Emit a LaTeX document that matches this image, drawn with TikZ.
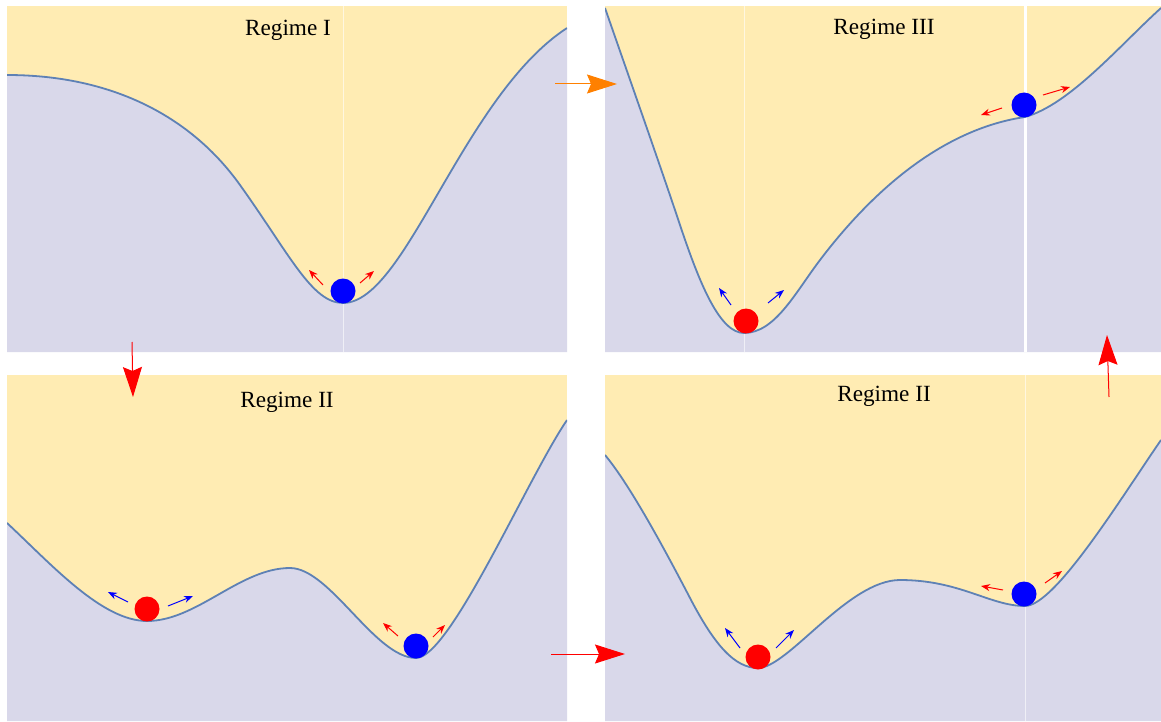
\documentclass[tikz,border=0pt]{standalone}
\usepackage{fontspec}
\setmainfont{Liberation Serif}
\usetikzlibrary{arrows.meta}
\definecolor{sand}{RGB}{255,236,179}
\definecolor{lavender}{RGB}{217,216,234}
\definecolor{curveblue}{RGB}{94,129,181}
\definecolor{flowred}{RGB}{255,0,0}
\definecolor{flowblue}{RGB}{0,0,255}
\definecolor{floworange}{RGB}{255,128,0}

% potential curves, one per panel (pixel units)
\newcommand{\wellI}{(7,75) .. controls (110,75) and (190,115) .. (240,185)
  .. controls (290,255) and (312,303) .. (343,303)
  .. controls (375,303) and (405,250) .. (440,190)
  .. controls (475,130) and (515,62) .. (567,28)}
\newcommand{\wellIII}{(605,8) .. controls (630,80) and (660,165) .. (680,225)
  .. controls (700,285) and (720,333) .. (744,333)
  .. controls (775,333) and (795,293) .. (820,260)
  .. controls (880,181) and (950,128) .. (1025,117)
  .. controls (1070,104.5) and (1120,45) .. (1161,8)}
\newcommand{\wellIIa}{(7,523) .. controls (52,565) and (102,621) .. (147,621)
  .. controls (197,621) and (240,568) .. (290,568)
  .. controls (330,568) and (375,658) .. (416,658)
  .. controls (450,658) and (527,479) .. (567,420)}
\newcommand{\wellIIb}{(605,455) .. controls (630,485) and (665,550) .. (690,598)
  .. controls (715,646) and (735,668) .. (758,668)
  .. controls (788,668) and (848,580) .. (900,580)
  .. controls (960,580) and (990,606) .. (1025,606)
  .. controls (1055,606) and (1121,498) .. (1161,440)}

\tikzset{
  potential/.style={curveblue, line width=0.9pt},
  ball/.style={circle, inner sep=0pt, minimum size=12.5pt},
  kick/.style={-{Stealth[length=4.5pt,width=3.5pt]}, line width=0.5pt},
  jump/.style={-{Stealth[length=15pt,width=9.5pt,inset=2pt]}, line width=0.5pt},
  title/.style={font=\fontsize{11.6}{14}\selectfont},
  guide/.style={white, line width=0.5pt, opacity=0.6}
}

\begin{document}
\begin{tikzpicture}[x=0.5pt, y=-0.5pt]
\useasboundingbox (0,0) rectangle (1161,722);

% Regime I (top left)
\begin{scope}
  \clip (7,6) rectangle (567,352);
  \fill[sand] (7,6) rectangle (567,352);
  \fill[lavender] \wellI -- (567,352) -- (7,352) -- cycle;
  \draw[guide] (343,6) -- (343,352);
  \draw[potential] \wellI;
\end{scope}
\node[title] (t1) at (288,30) {Regime I};
\node[ball, fill=flowblue] (b1) at (343,291) {};
\draw[kick, flowred] ([shift={(-20,-6)}]b1.center) -- ++(-14,-15);
\draw[kick, flowred] ([shift={(17,-8)}]b1.center) -- ++(14,-12);

% Regime III (top right)
\begin{scope}
  \clip (605,6) rectangle (1161,352);
  \fill[sand] (605,6) rectangle (1161,352);
  \fill[lavender] \wellIII -- (1161,352) -- (605,352) -- cycle;
  \draw[guide] (744,6) -- (744,352);
  \draw[white, line width=1.5pt] (1025,6) -- (1025,352);
  \draw[potential] \wellIII;
\end{scope}
\node[title] (t3) at (884,29) {Regime III};
\node[ball, fill=flowred] (b3a) at (746,321) {};
\draw[kick, flowblue] ([shift={(-15,-16)}]b3a.center) -- ++(-12,-17);
\draw[kick, flowblue] ([shift={(22,-18)}]b3a.center) -- ++(16,-13);
\node[ball, fill=flowblue] (b3b) at (1024,105) {};
\draw[kick, flowred] ([shift={(-22,3)}]b3b.center) -- ++(-21,7);
\draw[kick, flowred] ([shift={(19,-10)}]b3b.center) -- ++(27,-8);

% Regime II (bottom left)
\begin{scope}
  \clip (7,375) rectangle (567,721);
  \fill[sand] (7,375) rectangle (567,721);
  \fill[lavender] \wellIIa -- (567,721) -- (7,721) -- cycle;
  \draw[potential] \wellIIa;
\end{scope}
\node[title] (t2a) at (287,402) {Regime II};
\node[ball, fill=flowred] (b2a) at (147,609) {};
\draw[kick, flowblue] ([shift={(-19,-7)}]b2a.center) -- ++(-20,-10);
\draw[kick, flowblue] ([shift={(21,-3)}]b2a.center) -- ++(25,-10);
\node[ball, fill=flowblue] (b2b) at (416,646) {};
\draw[kick, flowred] ([shift={(-18,-10)}]b2b.center) -- ++(-15,-13);
\draw[kick, flowred] ([shift={(17,-9)}]b2b.center) -- ++(12,-12);

% Regime II (bottom right)
\begin{scope}
  \clip (605,375) rectangle (1161,721);
  \fill[sand] (605,375) rectangle (1161,721);
  \fill[lavender] \wellIIb -- (1161,721) -- (605,721) -- cycle;
  \draw[guide] (1025,375) -- (1025,721);
  \draw[potential] \wellIIb;
\end{scope}
\node[title] (t2b) at (884,396) {Regime II};
\node[ball, fill=flowred] (b4a) at (758,657) {};
\draw[kick, flowblue] ([shift={(-18,-9)}]b4a.center) -- ++(-15,-20);
\draw[kick, flowblue] ([shift={(18,-9)}]b4a.center) -- ++(18,-18);
\node[ball, fill=flowblue] (b4b) at (1024,594) {};
\draw[kick, flowred] ([shift={(-21,-4)}]b4b.center) -- ++(-22,-4);
\draw[kick, flowred] ([shift={(21,-11)}]b4b.center) -- ++(17,-12);

% Transitions between regimes
\coordinate (j1s) at (555,84);  \coordinate (j1e) at (617,84);
\coordinate (j2s) at (132,342); \coordinate (j2e) at (133,397);
\coordinate (j3s) at (551,654); \coordinate (j3e) at (625,654);
\coordinate (j4s) at (1109,397); \coordinate (j4e) at (1107,335);
\draw[jump, floworange] (j1s) -- (j1e);
\draw[jump, flowred] (j2s) -- (j2e);
\draw[jump, flowred] (j3s) -- (j3e);
\draw[jump, flowred] (j4s) -- (j4e);
\end{tikzpicture}
\end{document}
